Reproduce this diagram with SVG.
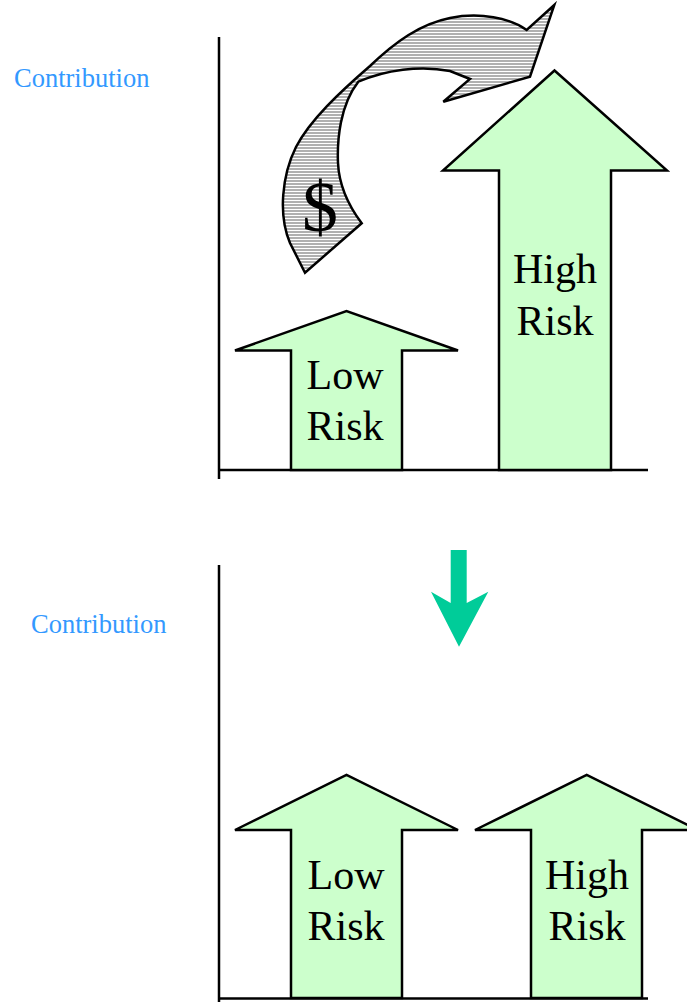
<svg xmlns="http://www.w3.org/2000/svg" width="687" height="1002" viewBox="0 0 687 1002">
  <style>
    .axis { stroke: #000; stroke-width: 2.5; fill: none; }
    .bar { fill: #ccffcc; stroke: #000; stroke-width: 2.5; stroke-linejoin: miter; }
    .lbl { font-family: "Liberation Serif", "Times New Roman", serif; font-size: 42px; fill: #000; text-anchor: middle; }
    .ylbl { font-family: "Liberation Serif", "Times New Roman", serif; font-size: 26.5px; fill: #3399ff; }
  </style>
  <defs>
    <pattern id="hatch" width="8" height="3" patternUnits="userSpaceOnUse">
      <rect width="8" height="3" fill="#ffffff"/>
      <rect width="8" height="2" fill="#b0b0b0"/>
    </pattern>
  </defs>
  <rect width="687" height="1002" fill="#ffffff"/>

  <g id="top-chart">
    <g id="top-axes">
      <line class="axis" x1="219" y1="37" x2="219" y2="479"/>
      <line class="axis" x1="218" y1="470" x2="648" y2="470"/>
    </g>
    <text class="ylbl" x="14" y="87">Contribution</text>
  </g>

  <g id="top-low">
    <polygon class="bar" points="291,470 291,350.5 235,350.5 346.5,311 458,350.5 402,350.5 402,470"/>
    <text class="lbl" x="345" y="389">Low</text>
    <text class="lbl" x="345" y="440">Risk</text>
  </g>

  <g id="top-high">
    <polygon class="bar" points="499,470 499,170.5 443,170.5 554.5,70.5 667,170.5 611,170.5 611,470"/>
    <text class="lbl" x="555" y="283">High</text>
    <text class="lbl" x="555" y="335">Risk</text>
  </g>

  <g id="money-arrow">
    <path d="M526.7,30 C510,18 480,12 450,18 C420,24 395,42 370,66 C340,92 310,120 296,147 C282,175 278,215 290,243 L305,272.7 L361.7,223.3 C348,205 339,185 338,163 C337,140 340,105 358.3,81.7 C385,70 420,65 450,71 L470,79 L443.3,101.7 L530,76.7 L554.3,5 Z" fill="url(#hatch)" stroke="#000" stroke-width="2.5" stroke-linejoin="miter"/>
    <text x="320" y="231" font-family="'Liberation Serif', 'Times New Roman', serif" font-size="72px" text-anchor="middle" fill="#000">$</text>
  </g>

  <g id="connectors">
    <polygon id="down-arrow" points="450.7,550 466.7,550 466.7,603 488.3,591.7 459,646.7 431,591.7 450.7,603" fill="#00cc99"/>
  </g>

  <g id="bottom-chart">
    <g id="bottom-axes">
      <line class="axis" x1="219" y1="565" x2="219" y2="1002"/>
      <line class="axis" x1="218" y1="998.5" x2="648" y2="998.5"/>
    </g>
    <text class="ylbl" x="31" y="633">Contribution</text>
  </g>

  <g id="bottom-low">
    <polygon class="bar" points="291,998 291,830 235,830 346.5,775 458,830 402,830 402,998"/>
    <text class="lbl" x="346" y="889">Low</text>
    <text class="lbl" x="346" y="940">Risk</text>
  </g>

  <g id="bottom-high">
    <polygon class="bar" points="531,998 531,830 475,830 586.7,775 698,830 642,830 642,998"/>
    <text class="lbl" x="587" y="889">High</text>
    <text class="lbl" x="587" y="940">Risk</text>
  </g>
</svg>
